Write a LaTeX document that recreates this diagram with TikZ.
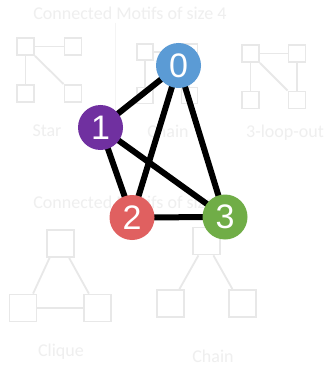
\documentclass[tikz,border=0pt]{standalone}
\usepackage{fontspec}
\setmainfont{Carlito}
\newfontfamily\digitfont{Liberation Sans}
\usetikzlibrary{calc}
\definecolor{fadeline}{HTML}{E8E8E8}
\definecolor{fadetext}{HTML}{EFEFEF}
\definecolor{fadesep}{HTML}{F4F4F4}
\definecolor{nblue}{HTML}{5B9BD5}
\definecolor{npurple}{HTML}{7030A0}
\definecolor{nred}{HTML}{E06060}
\definecolor{ngreen}{HTML}{70AD47}
\tikzset{
  mbox/.style={draw=fadeline, line width=1.8pt, minimum size=#1, inner sep=0pt, fill=white},
  mline/.style={draw=fadeline, line width=1.8pt},
  mtext/.style={text=fadetext, font=\fontsize{18}{20}\selectfont, inner sep=0pt},
  gnode/.style={circle, fill=#1, minimum size=45pt, inner sep=0pt, text=white,
    font=\digitfont\fontsize{34}{36}\selectfont},
  gedge/.style={draw=black, line width=6pt}
}
\begin{document}
\begin{tikzpicture}[x=1pt, y=-1pt]
\useasboundingbox (0,0) rectangle (325,366);
\fill[white] (0,0) rectangle (325,366);

% faint motif catalogue in the background
\node[mtext] (t4) at (130,13) {Connected Motifs of size 4};
\coordinate (sepa) at (115,23);
\coordinate (sepb) at (115,110);
\draw[draw=fadesep, line width=1pt] (sepa) -- (sepb);

% star
\node[mbox=17pt] (s1) at (25.5,46.5) {};
\node[mbox=17pt] (s2) at (73,46.5) {};
\node[mbox=17pt] (s3) at (25.5,93.5) {};
\node[mbox=17pt] (s4) at (73,93.5) {};
\draw[mline] (s1) -- (s2);
\draw[mline] (s1) -- (s3);
\draw[mline] (s1.south east) -- (s4.north west);
\node[mtext] (lstar) at (47,131) {Star};

% chain of four
\node[mbox=16pt] (c1) at (145,52) {};
\node[mbox=16pt] (c2) at (189.5,52) {};
\node[mbox=16pt] (c3) at (145,95.5) {};
\node[mbox=16pt] (c4) at (189.5,95.5) {};
\draw[mline] (c1) -- (c2);
\draw[mline] (c1) -- (c3);
\draw[mline] (c2) -- (c4);
\node[mtext] (lchain4) at (168,131) {Chain};

% 3-loop-out
\node[mbox=17pt] (l1) at (250.5,53.5) {};
\node[mbox=17pt] (l2) at (297,53.5) {};
\node[mbox=17pt] (l3) at (250.5,100) {};
\node[mbox=17pt] (l4) at (297,100) {};
\draw[mline] (l1) -- (l2);
\draw[mline] (l1) -- (l3);
\draw[mline] (l2) -- (l4);
\draw[mline] (l1.south east) -- (l4.north west);
\node[mtext] (lloop) at (285,133) {3-loop-out};

\node[mtext] (t3) at (130,202) {Connected Motifs of size 3};

% clique
\node[mbox=27pt] (q1) at (60.5,243.5) {};
\node[mbox=27pt] (q2) at (23,308) {};
\node[mbox=27pt] (q3) at (97.5,308) {};
\draw[mline] ($(q1.south west)!0.12!(q1.south east)$) -- ($(q2.north west)!0.85!(q2.north east)$);
\draw[mline] ($(q1.south west)!0.8!(q1.south east)$) -- ($(q3.north west)!0.2!(q3.north east)$);
\draw[mline] (q2) -- (q3);
\node[mtext] (lclique) at (61,352) {Clique};

% chain of three
\node[mbox=27pt] (h1) at (206.5,241) {};
\node[mbox=27pt] (h2) at (170.5,303.5) {};
\node[mbox=27pt] (h3) at (242.5,303.5) {};
\draw[mline] ($(h1.south west)!0.22!(h1.south east)$) -- ($(h2.north west)!0.81!(h2.north east)$);
\draw[mline] ($(h1.south west)!0.74!(h1.south east)$) -- ($(h3.north west)!0.15!(h3.north east)$);
\node[mtext] (lchain3) at (213,356) {Chain};

% the graph
\coordinate (p0) at (178.5,65.5);
\coordinate (p1) at (100.5,127.5);
\coordinate (p2) at (132,217.5);
\coordinate (p3) at (225,217);
\draw[gedge] (p0) -- (p1);
\draw[gedge] (p0) -- (p2);
\draw[gedge] (p0) -- (p3);
\draw[gedge] (p1) -- (p2);
\draw[gedge] (p1) -- (p3);
\draw[gedge] (p2) -- (p3);
\node[gnode=nblue] (n0) at (p0) {0};
\node[gnode=npurple] (n1) at (p1) {1};
\node[gnode=nred] (n2) at (p2) {2};
\node[gnode=ngreen] (n3) at (p3) {3};
\end{tikzpicture}
\end{document}
